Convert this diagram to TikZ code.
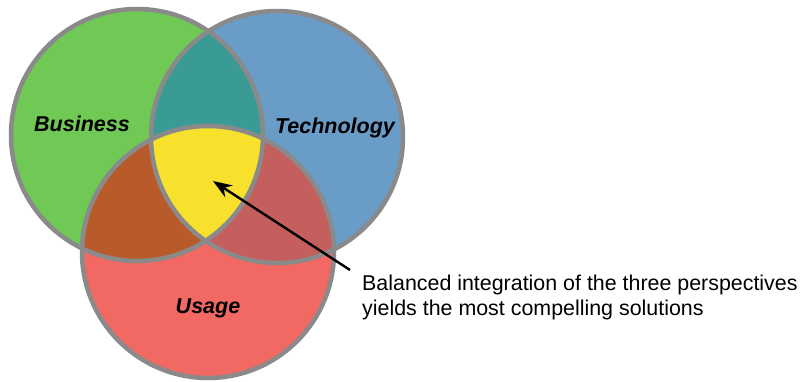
\documentclass[tikz,border=0pt]{standalone}
\usepackage{fontspec}
\setmainfont{Liberation Sans}
\usetikzlibrary{arrows.meta}

\definecolor{busgreen}{HTML}{70C855}
\definecolor{techblue}{HTML}{6A9CC8}
\definecolor{usered}{HTML}{F26862}
\definecolor{bustech}{HTML}{3A9A94}
\definecolor{bususe}{HTML}{B85A2A}
\definecolor{techuse}{HTML}{C45F5E}
\definecolor{core}{HTML}{F8E12C}
\definecolor{rim}{HTML}{8A8A8A}

\begin{document}
\begin{tikzpicture}[x=1pt,y=-1pt]

      \useasboundingbox (0,0) rectangle (807,381);

      \def\rad{126}
      \coordinate (bus)  at (137,135);
      \coordinate (tech) at (277,137);
      \coordinate (use)  at (208,252);

      % the three sets
      \fill[busgreen] (bus)  circle (\rad);
      \fill[techblue] (tech) circle (\rad);
      \fill[usered]   (use)  circle (\rad);

      % pairwise overlaps
      \begin{scope}
        \clip (bus) circle (\rad);
        \fill[bustech] (tech) circle (\rad);
        \fill[bususe]  (use)  circle (\rad);
      \end{scope}
      \begin{scope}
        \clip (tech) circle (\rad);
        \fill[techuse] (use) circle (\rad);
      \end{scope}

      % all three
      \begin{scope}
        \clip (bus) circle (\rad);
        \clip (tech) circle (\rad);
        \fill[core] (use) circle (\rad);
      \end{scope}

      \begin{scope}[rim,line width=4.5pt]
        \draw (bus)  circle (\rad);
        \draw (tech) circle (\rad);
        \draw (use)  circle (\rad);
      \end{scope}

      \begin{scope}[every node/.style={font=\fontsize{21.5}{25}\selectfont\bfseries\itshape}]
        \node (busl)  at (82,124)  {Business};
        \node (techl) at (335,128) {Technology};
        \node (usel)  at (208,308) {Usage};
      \end{scope}

      \node[anchor=north west,align=left,inner sep=0pt,
            font=\fontsize{21.4}{25}\selectfont] (note) at (362,275)
        {Balanced integration of the three perspectives\\
         yields the most compelling solutions};

      \coordinate (tip) at (213,181);
      \coordinate (tail) at (350,270);
      \draw[-{Stealth[length=19pt,width=14pt]},line width=2.4pt] (tail) -- (tip);

    \end{tikzpicture}
\end{document}
